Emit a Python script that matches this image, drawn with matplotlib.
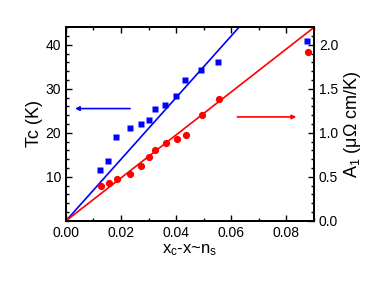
import numpy as np
import matplotlib.pyplot as plt
from matplotlib.ticker import MultipleLocator

plt.rcParams["font.family"] = ["Liberation Sans", "DejaVu Sans"]
plt.rcParams["mathtext.fontset"] = "custom"
plt.rcParams["mathtext.rm"] = "Liberation Sans"
plt.rcParams["mathtext.it"] = "Liberation Sans"

# Tc (K) vs x_c - x  (blue squares, left axis)
x_tc = [0.0124, 0.0152, 0.0182, 0.0233, 0.0273, 0.0302, 0.0322, 0.0361,
        0.0400, 0.0432, 0.0490, 0.0553, 0.0875]
tc = [11.5, 13.7, 19.0, 21.1, 21.9, 23.0, 25.5, 26.4, 28.4, 32.0, 34.3, 36.1, 40.9]

# A1 (uOhm cm/K) vs x_c - x  (red circles, right axis)
x_a1 = [0.0126, 0.0155, 0.0185, 0.0233, 0.0272, 0.0303, 0.0322, 0.0364,
        0.0402, 0.0434, 0.0492, 0.0554, 0.0879]
a1 = [0.40, 0.435, 0.47, 0.53, 0.62, 0.72, 0.80, 0.88, 0.935, 0.97, 1.20, 1.38, 1.92]

tc_slope = 700.0   # K per unit x
a1_slope = 24.4    # uOhm cm/K per unit x

fig = plt.figure(figsize=(3.9, 2.88), dpi=100)
ax = fig.add_axes([0.169, 0.233, 0.636, 0.673])
ax2 = ax.twinx()

xl = np.array([0.0, 0.09])
ax.plot(xl, tc_slope * xl, color="blue", lw=1.2)
ax.plot(x_tc, tc, "s", color="blue", ms=5, mec="none")
ax2.plot(xl, a1_slope * xl, color="red", lw=1.2)
ax2.plot(x_a1, a1, "o", color="red", ms=5.2, mec="none")

ax.annotate("", xy=(0.0033, 25.5), xytext=(0.0233, 25.5),
            arrowprops=dict(arrowstyle="-|>", color="blue", lw=1.2,
                            mutation_scale=6, shrinkA=0, shrinkB=0))
ax.annotate("", xy=(0.0836, 23.6), xytext=(0.0622, 23.6),
            arrowprops=dict(arrowstyle="-|>", color="red", lw=1.2,
                            mutation_scale=6, shrinkA=0, shrinkB=0))

ax.set_xlim(0, 0.09)
ax.set_ylim(0, 44)
ax2.set_ylim(0, 2.2)

ax.set_xticks([0.0, 0.02, 0.04, 0.06, 0.08])
ax.set_xticklabels(["0.00", "0.02", "0.04", "0.06", "0.08"])
ax.xaxis.set_minor_locator(MultipleLocator(0.01))
ax.set_yticks([10, 20, 30, 40])
ax.yaxis.set_minor_locator(MultipleLocator(2))
ax2.set_yticks([0.0, 0.5, 1.0, 1.5, 2.0])
ax2.yaxis.set_minor_locator(MultipleLocator(0.1))

ax.tick_params(which="both", direction="in", top=True, labelsize=10, width=1)
ax.tick_params(which="major", length=4)
ax.tick_params(which="minor", length=2.5)
ax2.tick_params(which="both", direction="in", labelsize=10, width=1)
ax2.tick_params(which="major", length=4)
ax2.tick_params(which="minor", length=2.5)
for a in (ax, ax2):
    for s in a.spines.values():
        s.set_linewidth(1.3)

ax.set_xlabel(r"x$_\mathrm{c}$-x~n$_\mathrm{s}$", fontsize=12, labelpad=2)
ax.set_ylabel("Tc (K)", fontsize=13, labelpad=2)
ax2.set_ylabel(r"A$_1$ ($\mu\Omega$ cm/K)", fontsize=13, labelpad=3)

fig.savefig("out.png", dpi=100)
